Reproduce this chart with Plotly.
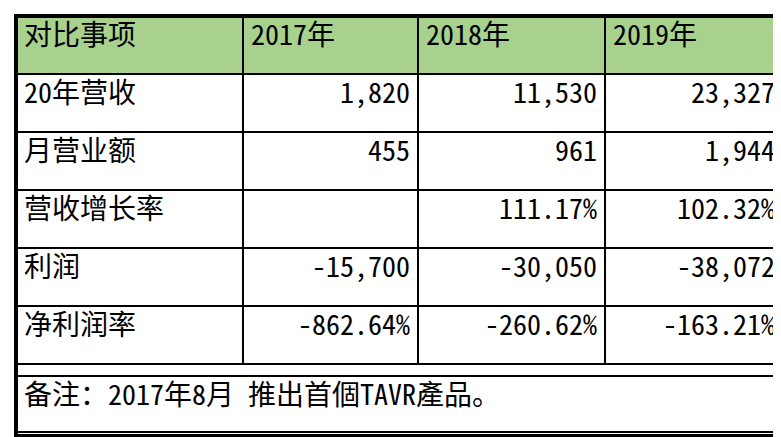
import plotly.graph_objects as go

header = ["对比事项", "2017年", "2018年", "2019年"]
items = ["20年营收", "月营业额", "营收增长率", "利润", "净利润率"]
y2017 = ["1,820", "455", "", "-15,700", "-862.64%"]
y2018 = ["11,530", "961", "111.17%", "-30,050", "-260.62%"]
y2019 = ["23,327", "1,944", "102.32%", "-38,072", "-163.21%"]
note = "备注：2017年8月 推出首個TAVR產品。"

FONT = "Noto Sans Mono CJK SC, DejaVu Sans Mono, Noto Sans CJK SC"
fig = go.Figure()
fig.add_trace(go.Table(
    domain=dict(x=[0, 1], y=[1/7, 1]),
    columnwidth=[227, 175, 187, 178],
    header=dict(values=header, fill_color="#a9d18e", align="left",
                line=dict(color="black", width=2), height=58,
                font=dict(family=FONT, size=28, color="black")),
    cells=dict(values=[items, y2017, y2018, y2019],
               align=["left", "right", "right", "right"], fill_color="white",
               line=dict(color="black", width=2), height=58,
               font=dict(family=FONT, size=28, color="black")),
))
fig.add_trace(go.Table(
    domain=dict(x=[0, 1], y=[0, 1/7]),
    header=dict(values=[note], fill_color="white", align="left",
                line=dict(color="black", width=2), height=56,
                font=dict(family=FONT, size=28, color="black")),
))
fig.add_shape(type="rect", xref="paper", yref="paper", x0=0, x1=1, y0=0, y1=1,
              line=dict(color="black", width=4))
fig.update_layout(width=781, height=437, margin=dict(l=8, r=6, t=8, b=9),
                  paper_bgcolor="white", plot_bgcolor="white")
fig.write_html("out.html")
